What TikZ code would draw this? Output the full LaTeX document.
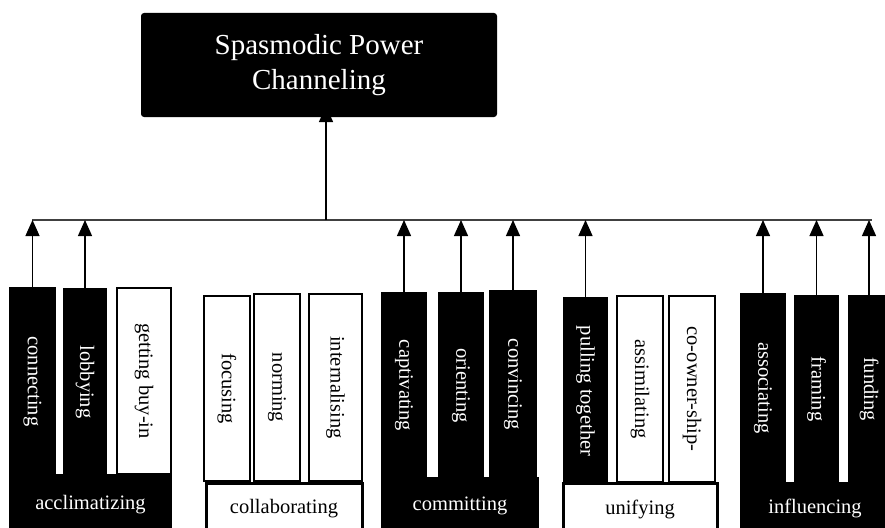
\documentclass[tikz,border=0pt]{standalone}
\usepackage{fontspec}
\setmainfont{Liberation Serif}
\usetikzlibrary{arrows.meta,backgrounds}

\newcommand{\vlabel}[1]{\rotatebox{-90}{#1}}

\begin{document}
\begin{tikzpicture}[x=1pt, y=-1pt,
    font=\fontsize{20.5}{24}\selectfont,
    every node/.style={inner sep=0pt, outer sep=0pt},
    size/.style 2 args={minimum width=#1pt, minimum height=#2pt},
    topbox/.style={fill=black, text=white, rounded corners=3pt, align=center, minimum width=356pt, minimum height=104pt, font=\fontsize{29}{35}\selectfont},
    darkbar/.style={fill=black, text=white, anchor=north west},
    lightbar/.style={draw=black, line width=1.3pt, fill=white, anchor=north west},
    darkgroup/.style={fill=black, text=white, anchor=north west},
    lightgroup/.style={draw=black, line width=3pt, fill=white, anchor=north west},
    arrow/.style={-{Triangle[width=14pt,length=16pt]}, line width=1.3pt}
]
\useasboundingbox (0,0) rectangle (885,527);
\clip (0,0) rectangle (885,527);

\node[topbox] (top) at (319,65) {Spasmodic Power\\Channeling};

% acclimatizing
\node[darkbar, size={47}{189}] (conn) at (9,287) {\vlabel{connecting}};
\node[darkbar, size={44}{188}] (lob) at (63,288) {\vlabel{lobbying}\hspace{6pt}};
\node[lightbar, size={54}{186}] (buyin) at (117,288) {\vlabel{getting buy-in}};
\node[darkgroup, size={163}{61}] (accl) at (9,474) {acclimatizing};

% collaborating
\node[lightbar, size={46}{185}] (focus) at (204,296) {\vlabel{focusing}};
\node[lightbar, size={46}{187}] (norm) at (254,294) {\vlabel{norming}};
\node[lightbar, size={53}{187}] (intern) at (309,294) {\vlabel{internalising}};
\node[lightgroup, size={156}{52}] (collab) at (206,483) {collaborating};

% committing
\node[darkbar, size={46}{187}] (capt) at (381,292) {\vlabel{captivating}};
\node[darkbar, size={46}{187}] (orient) at (438,292) {\vlabel{orienting}};
\node[darkbar, size={48}{189}] (conv) at (489,290) {\vlabel{convincing}};
\node[darkgroup, size={158}{58}] (commit) at (381,477) {committing};

% unifying
\node[lightbar, size={46}{186}] (assim) at (617,296) {\vlabel{assimilating}};
\node[lightbar, size={46}{186}] (coown) at (669,296) {\vlabel{co-owner-ship-}};
\node[lightgroup, size={154}{52}] (unify) at (563,483) {unifying};
\node[darkbar, size={45}{188}] (pull) at (563,297) {\vlabel{pulling together}};

% influencing
\node[darkbar, size={46}{190}] (assoc) at (740,293) {\vlabel{associating}};
\node[darkbar, size={45}{188}] (fram) at (794,295) {\vlabel{framing}};
\node[darkbar, size={42}{188}] (fund) at (848,295) {\vlabel{funding}};
\node[darkgroup, size={150}{53}] (influ) at (740,482) {influencing};

\begin{scope}[on background layer]
\coordinate (hub) at (326,220);
\coordinate (busW) at (32,220);
\coordinate (busE) at (872,220);
\draw[line width=1.3pt, black!75] (busW) -- (busE);
\draw[arrow, shorten >=-11pt] (hub) -- (hub |- top.south);
\foreach \n in {conn,lob,capt,orient,conv,pull,assoc,fram,fund}
    \draw[arrow] (\n.north) -- (\n.north |- hub);
\end{scope}
\end{tikzpicture}
\end{document}
